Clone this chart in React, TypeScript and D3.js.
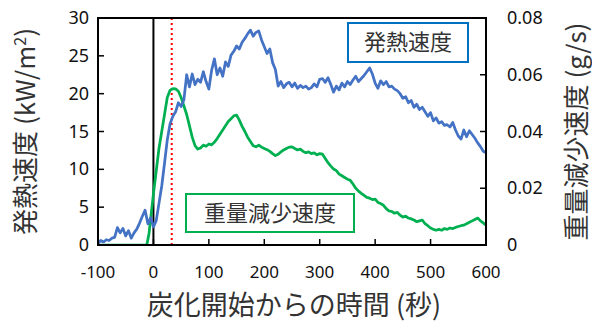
import * as React from 'react';
import * as d3 from 'd3';

// heat release rate, kW/m2 (time s, value)
const heatRelease: [number, number][] = [
  [-100, 0.2], [-95, 0.6], [-90, 0.4], [-85, 0.7], [-80, 0.6], [-75, 0.9], [-70, 1.0], [-65, 2.3],
  [-60, 1.6], [-55, 2.2], [-50, 1.2], [-45, 1.9], [-40, 0.9], [-35, 1.6], [-30, 2.1], [-25, 2.9],
  [-20, 3.8], [-15, 4.6], [-10, 2.8], [-5, 3.6], [0, 2.4], [5, 3.2], [10, 5.5], [15, 7.8],
  [20, 10.8], [25, 13.9], [30, 16.0], [35, 17.0], [40, 17.6], [45, 18.8], [50, 18.3], [55, 19.2],
  [60, 22.5], [65, 20.9], [70, 22.6], [75, 21.2], [80, 21.9], [85, 21.5], [90, 22.9], [95, 21.6],
  [100, 20.6], [105, 23.1], [110, 24.6], [115, 22.5], [120, 23.4], [125, 22.3], [130, 24.2], [135, 23.6],
  [140, 25.1], [145, 25.6], [150, 26.3], [155, 25.9], [160, 26.8], [165, 27.3], [170, 27.9], [175, 28.4],
  [180, 27.6], [185, 28.1], [190, 28.3], [195, 27.1], [200, 26.2], [205, 25.3], [210, 25.9], [215, 24.1],
  [220, 23.2], [225, 21.0], [230, 21.6], [235, 20.8], [240, 21.3], [245, 21.5], [250, 20.9], [255, 21.4],
  [260, 20.7], [265, 21.1], [270, 20.8], [275, 21.0], [280, 20.6], [285, 20.8], [290, 21.3], [295, 20.9],
  [300, 21.9], [305, 22.0], [310, 21.5], [315, 22.1], [320, 21.2], [325, 20.2], [330, 21.0], [335, 20.5],
  [340, 21.4], [345, 20.9], [350, 21.6], [355, 21.2], [360, 21.8], [365, 22.3], [370, 21.6], [375, 22.0],
  [380, 22.4], [385, 22.9], [390, 23.4], [395, 22.6], [400, 21.4], [405, 20.7], [410, 21.7], [415, 21.2],
  [420, 21.6], [425, 20.9], [430, 21.0], [435, 20.6], [440, 20.4], [445, 20.0], [450, 19.4], [455, 19.6],
  [460, 18.8], [465, 19.1], [470, 18.2], [475, 18.6], [480, 17.9], [485, 18.2], [490, 17.6], [495, 17.0],
  [500, 17.5], [505, 16.4], [510, 16.8], [515, 16.1], [520, 16.3], [525, 15.8], [530, 15.9], [535, 15.6],
  [540, 16.2], [545, 15.2], [550, 14.4], [555, 14.0], [560, 15.2], [565, 14.3], [570, 15.1], [575, 14.6],
  [580, 14.1], [585, 13.5], [590, 13.0], [595, 12.4], [600, 12.2],
];

// mass loss rate, g/s (time s, value)
const massLoss: [number, number][] = [
  [-100, 0], [-60, 0], [-12, 0], [-8, 0.004], [-4, 0.011], [0, 0.018], [5, 0.026], [10, 0.034],
  [15, 0.040], [20, 0.046], [25, 0.052], [30, 0.0545], [35, 0.0551], [40, 0.055], [45, 0.0542], [50, 0.052],
  [55, 0.049], [60, 0.046], [65, 0.042], [70, 0.038], [75, 0.035], [80, 0.0338], [85, 0.0342], [90, 0.0352],
  [95, 0.0348], [100, 0.0356], [105, 0.0353], [110, 0.0362], [115, 0.0375], [120, 0.039], [125, 0.0405], [130, 0.042],
  [135, 0.0435], [140, 0.0445], [145, 0.0455], [150, 0.0458], [155, 0.044], [160, 0.0418], [165, 0.040], [170, 0.038],
  [175, 0.0365], [180, 0.035], [185, 0.0346], [190, 0.0352], [195, 0.0345], [200, 0.034], [205, 0.0336], [210, 0.033],
  [215, 0.0322], [220, 0.0315], [225, 0.032], [230, 0.0328], [235, 0.0335], [240, 0.034], [245, 0.0345], [250, 0.0346],
  [255, 0.034], [260, 0.0335], [265, 0.0338], [270, 0.033], [275, 0.0325], [280, 0.0328], [285, 0.0322], [290, 0.0325],
  [295, 0.0318], [300, 0.0322], [305, 0.032], [310, 0.0305], [315, 0.029], [320, 0.0278], [325, 0.0268], [330, 0.0262],
  [335, 0.025], [340, 0.0244], [345, 0.0238], [350, 0.0232], [355, 0.0228], [360, 0.0215], [365, 0.02], [370, 0.019],
  [375, 0.0182], [380, 0.0175], [385, 0.0168], [390, 0.0165], [395, 0.016], [400, 0.0162], [405, 0.015], [410, 0.0146],
  [415, 0.014], [420, 0.0128], [425, 0.012], [430, 0.0118], [435, 0.0112], [440, 0.0115], [445, 0.0105], [450, 0.0098],
  [455, 0.0102], [460, 0.0095], [465, 0.0092], [470, 0.0088], [475, 0.0082], [480, 0.0085], [485, 0.0088], [490, 0.0075],
  [495, 0.0068], [500, 0.006], [505, 0.0055], [510, 0.0052], [515, 0.0055], [520, 0.0052], [525, 0.0058], [530, 0.0055],
  [535, 0.006], [540, 0.0058], [545, 0.0062], [550, 0.0065], [555, 0.0068], [560, 0.007], [565, 0.0075], [570, 0.008],
  [575, 0.0085], [580, 0.009], [585, 0.0095], [590, 0.0085], [595, 0.0078], [600, 0.007],
];

const xTicks = [-100, 0, 100, 200, 300, 400, 500, 600];
const leftTicks = [0, 5, 10, 15, 20, 25, 30];
const rightTicks = [0, 0.02, 0.04, 0.06, 0.08];
const rightTickLabels = ['0', '0.02', '0.04', '0.06', '0.08'];
const markerTimes = { start: 0, dotted: 33 };

const FONT = '"Noto Sans", "Noto Sans CJK JP", sans-serif';
const JP = '"Noto Sans CJK JP", sans-serif';

export default function App() {
  const width = 592;
  const height = 324;
  const m = { left: 98, right: 106, top: 18, bottom: 79 };
  const x = d3.scaleLinear().domain([-100, 600]).range([m.left, width - m.right]);
  const yL = d3.scaleLinear().domain([0, 30]).range([height - m.bottom, m.top]);
  const yR = d3.scaleLinear().domain([0, 0.08]).range([height - m.bottom, m.top]);

  const heatLine = d3.line<[number, number]>().x(d => x(d[0])).y(d => yL(d[1]));
  const massLine = d3.line<[number, number]>().x(d => x(d[0])).y(d => yR(d[1]));

  const x0 = x.range()[0];
  const x1 = x.range()[1];
  const yTop = m.top;
  const yBot = height - m.bottom;

  return (
    <svg width={width} height={height} style={{ position: 'absolute', left: 0, top: 0, background: '#fff' }}>
      <defs>
        <clipPath id="plot-clip">
          <rect x={x0} y={yTop} width={x1 - x0} height={yBot - yTop} />
        </clipPath>
      </defs>

      {/* tick marks (inside) */}
      {xTicks.slice(1, -1).map(t => (
        <line key={'xt' + t} x1={x(t)} x2={x(t)} y1={yBot} y2={yBot - 6} stroke="#000" strokeWidth={1.5} />
      ))}
      {leftTicks.slice(1, -1).map(t => (
        <line key={'lt' + t} x1={x0} x2={x0 + 6} y1={yL(t)} y2={yL(t)} stroke="#000" strokeWidth={1.5} />
      ))}
      {rightTicks.slice(1, -1).map(t => (
        <line key={'rt' + t} x1={x1} x2={x1 - 6} y1={yR(t)} y2={yR(t)} stroke="#000" strokeWidth={1.5} />
      ))}

      {/* vertical reference lines */}
      <line x1={x(markerTimes.start)} x2={x(markerTimes.start)} y1={yTop} y2={yBot} stroke="#000" strokeWidth={2} />
      <line x1={x(markerTimes.dotted)} x2={x(markerTimes.dotted)} y1={yTop} y2={yBot}
        stroke="#ff0000" strokeWidth={2} strokeDasharray="2,3" />

      <g clipPath="url(#plot-clip)">
        <path d={massLine(massLoss) || ''} fill="none" stroke="#00B050" strokeWidth={2.75} strokeLinejoin="round" />
        <path d={heatLine(heatRelease) || ''} fill="none" stroke="#4472C4" strokeWidth={2.75} strokeLinejoin="round" />
      </g>

      {/* plot frame */}
      <rect x={x0} y={yTop} width={x1 - x0} height={yBot - yTop} fill="none" stroke="#000" strokeWidth={2} />

      {/* legend boxes */}
      <rect x={348} y={23} width={120} height={39} fill="#fff" stroke="#0070C0" strokeWidth={2} />
      <text x={408} y={50} textAnchor="middle" fontFamily={JP} fontSize={22} fill="#333">発熱速度</text>
      <rect x={186} y={194} width={168} height={38} fill="#fff" stroke="#00B050" strokeWidth={2} />
      <text x={270} y={221} textAnchor="middle" fontFamily={JP} fontSize={22} fill="#333">重量減少速度</text>

      {/* tick labels */}
      {xTicks.map(t => (
        <text key={'xl' + t} x={x(t)} y={278} textAnchor="middle" fontFamily={FONT} fontSize={17} fill="#111">{t}</text>
      ))}
      {leftTicks.map(t => (
        <text key={'ll' + t} x={89} y={yL(t) + 6} textAnchor="end" fontFamily={FONT} fontSize={18} fill="#111">{t}</text>
      ))}
      {rightTicks.map((t, i) => (
        <text key={'rl' + t} x={507} y={yR(t) + 6} textAnchor="start" fontFamily={FONT} fontSize={18} fill="#111">{rightTickLabels[i]}</text>
      ))}

      {/* axis titles */}
      <text transform={`translate(35,${(yTop + yBot) / 2}) rotate(-90)`} textAnchor="middle"
        fontFamily={JP} fontSize={26} fill="#333">発熱速度 (kW/m<tspan dy={-9} fontSize={16}>2</tspan><tspan dy={9}>)</tspan></text>
      <text transform={`translate(586,${(yTop + yBot) / 2}) rotate(-90)`} textAnchor="middle"
        fontFamily={JP} fontSize={26} fill="#333">重量減少速度 (g/s)</text>
      <text x={294} y={315} textAnchor="middle" fontFamily={JP} fontSize={27} fill="#333">炭化開始からの時間 (秒)</text>
    </svg>
  );
}
